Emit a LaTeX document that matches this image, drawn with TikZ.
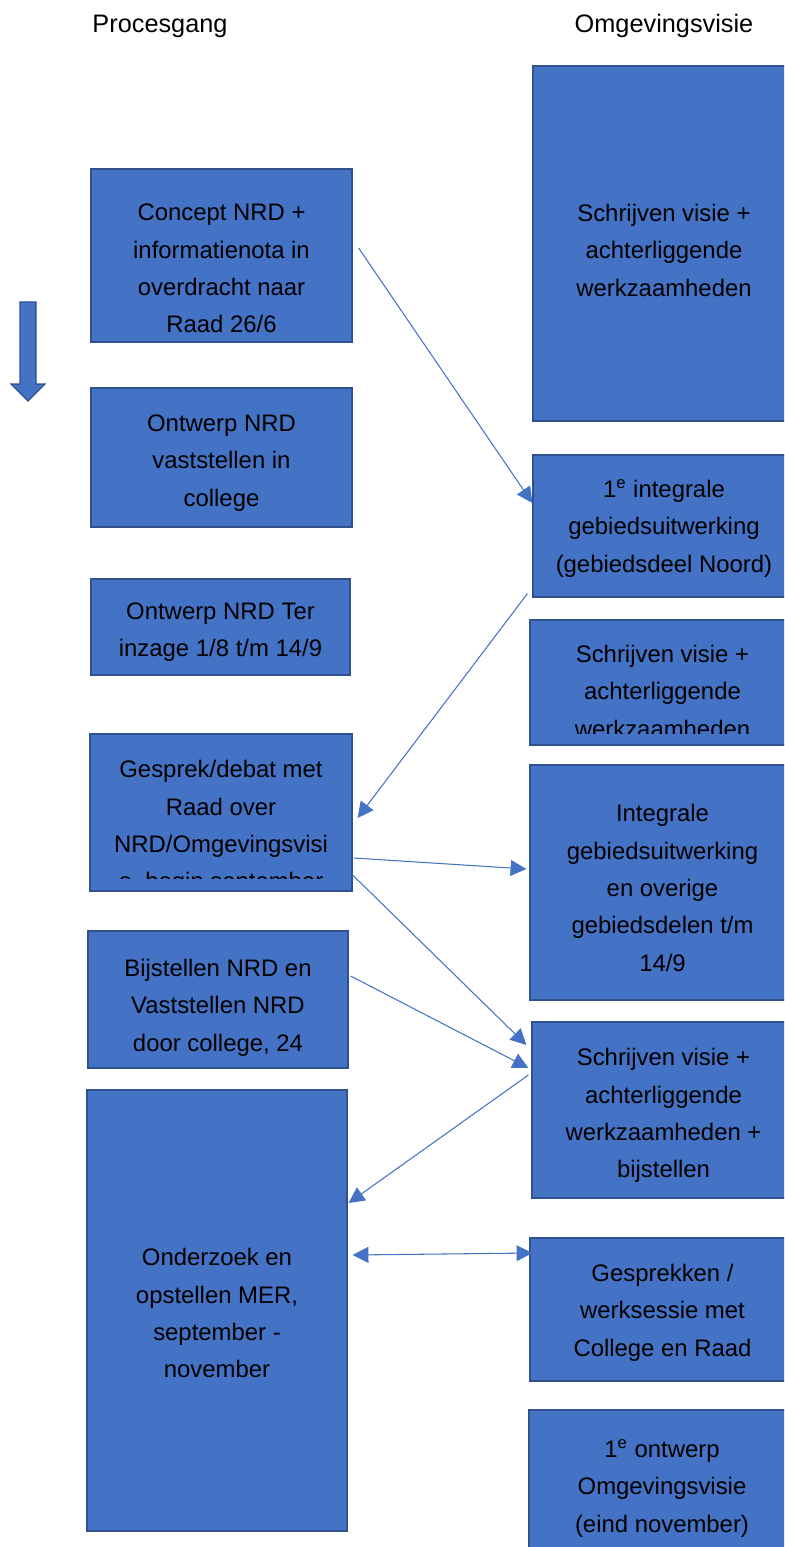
\documentclass[tikz,border=0pt]{standalone}
\usepackage{fontspec}
\setmainfont{Liberation Sans}
\usetikzlibrary{arrows.meta,calc,fit,positioning}
\definecolor{boxblue}{HTML}{4472C4}
\definecolor{boxedge}{HTML}{2F528F}

\begin{document}
\begin{tikzpicture}[
    x=0.02cm, y=-0.02cm,
    >={Triangle[length=9pt,width=9pt]},
    box/.style={draw=boxedge, fill=boxblue, line width=0.7pt, inner sep=0pt},
    txt/.style={align=center, inner sep=0pt, anchor=base,
      font=\fontsize{13.6}{21.3}\selectfont},
    head/.style={txt, font=\fontsize{14.4}{21.3}\selectfont},
    link/.style={draw=boxblue, line width=0.6pt}
  ]
  \useasboundingbox (0,0) rectangle (784,1547);
  \clip (0,0) rectangle (784,1547);

  % Headings
  \node[head] (hproc) at (160,33) {Procesgang};
  \node[head] (hvisie) at (664,33) {Omgevingsvisie};

  % Time arrow
  \filldraw[
    fill=boxblue,
    draw=boxedge,
    line width=0.7pt
  ] (20,302) -- (36,302) -- (36,384) -- (45,384) -- (28,401)
    -- (11,384) -- (20,384) -- cycle;

  % Procesgang
  \node[box, fit={(91,169) (352,342)}] (b1) {};
  \node[box, fit={(91,388) (352,527)}] (b2) {};
  \node[box, fit={(91,579) (350,675)}] (b3) {};
  \node[box, fit={(90,734) (352,891)}] (b4) {};
  \node[box, fit={(88,931) (348,1068)}] (b5) {};
  \node[box, fit={(87,1090) (347,1531)}] (b6) {};

  % (base = baseline of the last line)
  \node[txt] (b1t) at ($(b1.north)+(0,164.5)$)
    {Concept NRD +\\informatienota in\\overdracht naar\\Raad 26/6};
  \node[txt] (b2t) at ($(b2.north)+(0,119)$)
    {Ontwerp NRD\\vaststellen in\\college};
  \node[txt] (b3t) at ($(b3.north)+(0,78.5)$)
    {Ontwerp NRD Ter\\inzage 1/8 t/m 14/9};
  \begin{scope}
    \clip (b4.north west) rectangle ($(b4.south east)+(0,-13)$);
    \node[txt] (b4t) at ($(b4.north)+(0,156.5)$)
      {Gesprek/debat met\\Raad over\\NRD/Omgevingsvisi\\e, begin september};
  \end{scope}
  \node[txt] (b5t) at ($(b5.north)+(0,121)$)
    {Bijstellen NRD en\\Vaststellen NRD\\door college, 24};
  \node[txt] (b6t) at ($(b6.north)+(0,288.5)$)
    {Onderzoek en\\opstellen MER,\\september -\\november};

  % Omgevingsvisie
  \node[box, fit={(533,66) (795,421)}] (r1) {};
  \node[box, fit={(533,455) (795,597)}] (r2) {};
  \node[box, fit={(530,620) (795,745)}] (r3) {};
  \node[box, fit={(530,765) (795,1000)}] (r4) {};
  \node[box, fit={(532,1022) (795,1198)}] (r5) {};
  \node[box, fit={(530,1238) (795,1381)}] (r6) {};
  \node[box, fit={(529,1410) (795,1570)}] (r7) {};

  \node[txt] (r1t) at ($(r1.north)+(0,231)$)
    {Schrijven visie +\\achterliggende\\werkzaamheden};
  \node[txt] (r2t) at ($(r2.north)+(0,118)$)
    {1\textsuperscript{e} integrale\\gebiedsuitwerking\\(gebiedsdeel Noord)};
  \begin{scope}
    \clip (r3.north west) rectangle ($(r3.south east)+(0,-12)$);
    \node[txt] (r3t) at ($(r3.north)+(0,118)$)
      {Schrijven visie +\\achterliggende\\werkzaamheden};
  \end{scope}
  \node[txt] (r4t) at ($(r4.north)+(0,207)$)
    {Integrale\\gebiedsuitwerking\\en overige\\gebiedsdelen t/m\\14/9};
  \node[txt] (r5t) at ($(r5.north)+(0,156.5)$)
    {Schrijven visie +\\achterliggende\\werkzaamheden +\\bijstellen};
  \node[txt] (r6t) at ($(r6.north)+(0,119)$)
    {Gesprekken /\\werksessie met\\College en Raad};
  \node[txt] (r7t) at ($(r7.north)+(0,123)$)
    {1\textsuperscript{e} ontwerp\\Omgevingsvisie\\(eind november)};

  % Links
  \draw[link,->] ($(b1.east)+(6,-7.5)$) -- ($(r2.west)+(0,-23)$);
  \draw[link,->] ($(r2.south west)+(-5,-4)$) -- ($(b4.east)+(5,5.5)$);
  \draw[link,->] ($(b4.east)+(1,45.5)$) -- ($(r4.west)+(-3,-13.5)$);
  \draw[link,->] ($(b4.east)+(0,62.5)$) -- ($(r5.west)+(-5,-65)$);
  \draw[link,->] ($(b5.east)+(2,-23.5)$) -- ($(r5.west)+(-3,-42)$);
  \draw[link,->] ($(r5.west)+(-3,-35)$) -- ($(b6.east)+(1,-107.5)$);
  \draw[link,<->] ($(b6.east)+(5,-55.5)$) -- ($(r6.west)+(3,-56.5)$);
\end{tikzpicture}
\end{document}
